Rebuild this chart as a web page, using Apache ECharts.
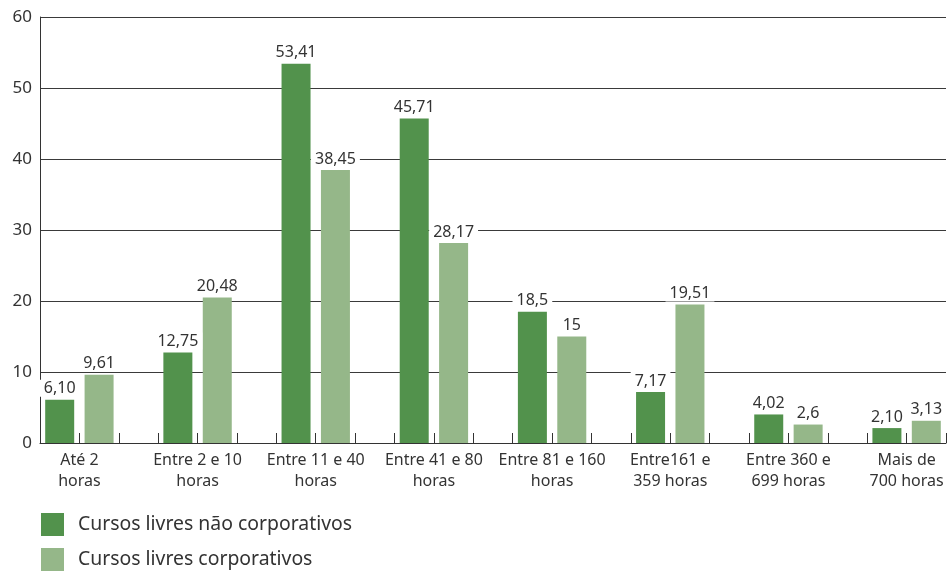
<!DOCTYPE html>
<html>
<head>
<meta charset="utf-8">
<script src="https://cdn.jsdelivr.net/npm/echarts@6/dist/echarts.min.js"></script>
<style>
html,body{margin:0;padding:0;background:#fff;}
#chart{width:949px;height:571px;}
</style>
</head>
<body>
<div id="chart"></div>
<script>
const categories = ['Até 2\nhoras','Entre 2 e 10\nhoras','Entre 11 e 40\nhoras','Entre 41 e 80\nhoras','Entre 81 e 160\nhoras','Entre161 e\n359 horas','Entre 360 e\n699 horas','Mais de\n700 horas'];
const seriesNames = ['Cursos livres não corporativos','Cursos livres corporativos'];
const naoCorporativos = ['6,10','12,75','53,41','45,71','18,5','7,17','4,02','2,10'];
const corporativos = ['9,61','20,48','38,45','28,17','15','19,51','2,6','3,13'];
const yTicks = [0,10,20,30,40,50,60];

const colors = ['#52924c','#95b789'];
const SLOTS = 3;
// the picture is cropped: the last (empty) slot of the last group lies outside
const NSLOTS = categories.length * SLOTS - 1;
const toNum = s => parseFloat(s.replace(',', '.'));
const slotNames = [];
for (let i = 0; i < NSLOTS; i++) slotNames.push('s' + i);
function spread(arr, offset) {
  const out = slotNames.map(() => '-');
  arr.forEach((s, i) => { out[i * SLOTS + offset] = { value: toNum(s), label: { formatter: s } }; });
  return out;
}

const chart = echarts.init(document.getElementById('chart'));
const font = '"Noto Sans", "Open Sans", sans-serif';
const labelStyle = {
  show: true, position: 'top', distance: 3,
  color: '#333', fontSize: 16, fontFamily: font,
  backgroundColor: '#fff', padding: [1, 4, 0, 4]
};
const legendCommon = {
  orient: 'horizontal', left: 41, padding: 0,
  itemWidth: 23, itemHeight: 23, itemGap: 12, itemStyle: { borderWidth: 0 },
  icon: 'rect', selectedMode: false,
  textStyle: { fontSize: 19.4, color: '#333', fontFamily: font, padding: [0, 0, 0, 9] }
};
chart.setOption({
  animation: false,
  textStyle: { fontFamily: font },
  grid: { left: 40, top: 17, right: 0, bottom: 128, containLabel: false },
  legend: [
    Object.assign({}, legendCommon, { top: 513, data: [seriesNames[0]] }),
    Object.assign({}, legendCommon, { top: 548, data: [seriesNames[1]] })
  ],
  xAxis: [
    {
      type: 'category', data: slotNames, boundaryGap: true,
      axisLine: { lineStyle: { color: '#333', width: 1 } },
      axisTick: { show: true, inside: true, length: 10, interval: 0, lineStyle: { color: '#333' } },
      axisLabel: { show: false }
    },
    {
      type: 'value', min: 0, max: NSLOTS, interval: 1, position: 'bottom',
      axisLine: { show: false }, axisTick: { show: false }, splitLine: { show: false },
      axisLabel: {
        margin: 7, fontSize: 16, lineHeight: 21, color: '#333', fontFamily: font,
        showMinLabel: true, showMaxLabel: true,
        formatter: v => (v % SLOTS === 1 ? categories[(v - 1) / SLOTS] : '')
      }
    }
  ],
  yAxis: {
    type: 'value', min: yTicks[0], max: yTicks[yTicks.length - 1], interval: 10,
    axisLine: { show: true, lineStyle: { color: '#333' } },
    axisTick: { show: false },
    splitLine: { lineStyle: { color: '#3a3a3a', width: 1 } },
    axisLabel: { fontSize: 17, color: '#333', margin: 8, fontFamily: font }
  },
  series: [
    { name: seriesNames[0], type: 'bar', xAxisIndex: 0, data: spread(naoCorporativos, 0),
      barWidth: 29, barGap: '-100%', itemStyle: { color: colors[0] }, label: labelStyle },
    { name: seriesNames[1], type: 'bar', xAxisIndex: 0, data: spread(corporativos, 1),
      barWidth: 29, barGap: '-100%', itemStyle: { color: colors[1] }, label: labelStyle }
  ]
});
</script>
</body>
</html>
